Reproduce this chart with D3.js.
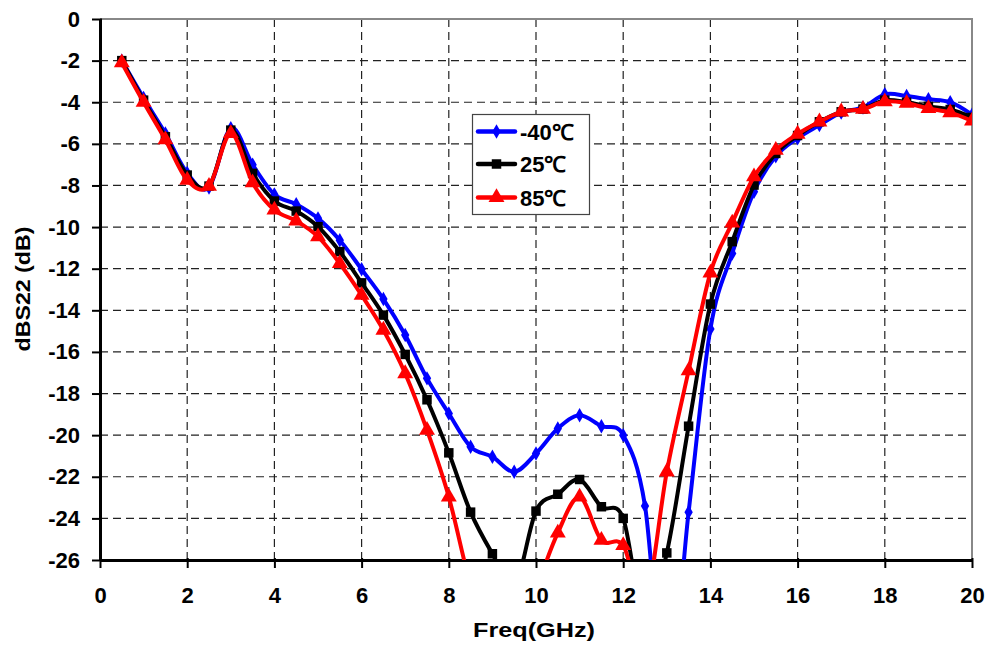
<!DOCTYPE html>
<html>
<head>
<meta charset="utf-8">
<script src="https://cdn.jsdelivr.net/npm/d3@7"></script>
<style>
  body { margin: 0; background: #fff; }
  text { font-family: "Liberation Sans", Arial, sans-serif; font-weight: bold; }
</style>
</head>
<body>
<div id="chart"></div>
<script>
var width = 988;
var height = 650;

// data
var freq = [0.5, 1, 1.5, 2, 2.5, 3, 3.5, 4, 4.5, 5, 5.5, 6, 6.5, 7, 7.5, 8, 8.5, 9, 9.5, 10,
            10.5, 11, 11.5, 12, 12.5, 13, 13.5, 14, 14.5, 15, 15.5, 16, 16.5, 17, 17.5, 18, 18.5, 19, 19.5, 20];

var s22_m40 = [-2.0, -3.8, -5.5, -7.4, -8.1, -5.25, -7.0, -8.43, -8.9, -9.58, -10.63, -12.03, -13.46, -15.19, -17.27, -18.96, -20.56, -21.04, -21.76, -20.88,
               -19.68, -19.04, -19.57, -20.0, -23.4, -33, -23.7, -14.9, -11.27, -8.3, -6.6, -5.73, -5.1, -4.5, -4.25, -3.62, -3.7, -3.86, -4.0, -4.6];

var s22_25 = [-2.0, -3.9, -5.66, -7.5, -8.03, -5.34, -7.42, -8.75, -9.23, -9.98, -11.18, -12.68, -14.23, -16.12, -18.3, -20.85, -23.7, -25.7, -27.3, -23.65,
              -22.84, -22.13, -23.44, -24.0, -29, -25.66, -19.57, -13.7, -10.7, -7.98, -6.46, -5.6, -4.94, -4.46, -4.33, -3.9, -4.0, -4.2, -4.35, -4.73];

var s22_85 = [-2.1, -4.0, -5.8, -7.74, -8.03, -5.5, -7.87, -9.18, -9.7, -10.46, -11.75, -13.27, -14.95, -17.04, -19.76, -22.97, -27.2, -30, -31, -27.5,
              -24.7, -22.97, -25.05, -25.3, -28, -21.76, -16.9, -12.2, -9.8, -7.58, -6.3, -5.53, -4.94, -4.46, -4.33, -3.97, -4.05, -4.3, -4.5, -4.9];

var seriesNames = ["-40\u2103", "25\u2103", "85\u2103"];
var seriesColors = ["#0000ff", "#000000", "#ff0000"];
var seriesSymbols = [d3.symbolDiamond, d3.symbolSquare, d3.symbolTriangle];
var symbolSizes = [60, 90, 110];

var xTicks = [0, 2, 4, 6, 8, 10, 12, 14, 16, 18, 20];
var yTicks = [0, -2, -4, -6, -8, -10, -12, -14, -16, -18, -20, -22, -24, -26];

var plot = {left: 100, right: 972, top: 19, bottom: 560};

var svg = d3.select("#chart")
  .append("svg")
  .attr("width", width)
  .attr("height", height);

var x = d3.scaleLinear().domain([0, 20]).range([plot.left, plot.right]);
var y = d3.scaleLinear().domain([-26, 0]).range([plot.bottom, plot.top]);

svg.append("clipPath")
  .attr("id", "plotclip")
  .append("rect")
  .attr("x", plot.left)
  .attr("y", plot.top)
  .attr("width", plot.right - plot.left)
  .attr("height", plot.bottom - plot.top);

// dashed grid
svg.append("g")
  .selectAll("line.vgrid")
  .data(xTicks.slice(1, -1))
  .enter().append("line")
  .attr("x1", function(d) { return x(d); })
  .attr("x2", function(d) { return x(d); })
  .attr("y1", plot.top)
  .attr("y2", plot.bottom)
  .attr("stroke", "#222")
  .attr("stroke-width", 1.2)
  .attr("stroke-dasharray", "8,5");

svg.append("g")
  .selectAll("line.hgrid")
  .data(yTicks.slice(1, -1))
  .enter().append("line")
  .attr("x1", plot.left)
  .attr("x2", plot.right)
  .attr("y1", function(d) { return y(d); })
  .attr("y2", function(d) { return y(d); })
  .attr("stroke", "#222")
  .attr("stroke-width", 1.2)
  .attr("stroke-dasharray", "8,5");

// top and right border
svg.append("path")
  .attr("d", "M" + plot.left + "," + plot.top + "H" + plot.right + "V" + plot.bottom)
  .attr("fill", "none")
  .attr("stroke", "#888")
  .attr("stroke-width", 2);

// axes
var yAxis = svg.append("g")
  .attr("transform", "translate(" + plot.left + ",0)")
  .call(d3.axisLeft(y).tickValues(yTicks).tickSize(8).tickSizeOuter(0).tickPadding(12)
    .tickFormat(function(d) { return d; }));
yAxis.select(".domain").attr("stroke", "#000").attr("stroke-width", 3);
yAxis.selectAll(".tick line").attr("x1", 2).attr("stroke-width", 2);
yAxis.selectAll(".tick text").attr("font-size", 22).attr("fill", "#000")
  .attr("font-family", "Liberation Sans, Arial, sans-serif").attr("font-weight", "bold");

var xAxis = svg.append("g")
  .attr("transform", "translate(0," + plot.bottom + ")")
  .call(d3.axisBottom(x).tickValues(xTicks).tickSize(8).tickSizeOuter(0));
xAxis.select(".domain").attr("stroke", "#000").attr("stroke-width", 3);
xAxis.selectAll(".tick line").attr("y1", -2).attr("stroke-width", 2);
xAxis.selectAll(".tick text").attr("font-size", 22).attr("fill", "#000").attr("y", 27)
  .attr("font-family", "Liberation Sans, Arial, sans-serif").attr("font-weight", "bold");

// curves
var allSeries = [s22_m40, s22_25, s22_85];
var line = d3.line()
  .x(function(d) { return x(d[0]); })
  .y(function(d) { return y(d[1]); })
  .curve(d3.curveCatmullRom.alpha(0));

var curves = svg.append("g").attr("clip-path", "url(#plotclip)");

allSeries.forEach(function(vals, i) {
  var pts = freq.map(function(f, j) { return [f, vals[j]]; });
  curves.append("path")
    .datum(pts)
    .attr("d", line)
    .attr("fill", "none")
    .attr("stroke", seriesColors[i])
    .attr("stroke-width", 4)
    .attr("stroke-linejoin", "round");

  curves.selectAll(".mk" + i)
    .data(pts)
    .enter().append("path")
    .attr("class", "mk" + i)
    .attr("d", d3.symbol().type(seriesSymbols[i]).size(symbolSizes[i]))
    .attr("transform", function(d) { return "translate(" + x(d[0]) + "," + y(d[1]) + ")"; })
    .attr("fill", seriesColors[i]);
});

// legend
var legend = svg.append("g");
legend.append("rect")
  .attr("x", 472.5)
  .attr("y", 114.5)
  .attr("width", 117)
  .attr("height", 100)
  .attr("fill", "#fff")
  .attr("stroke", "#444")
  .attr("stroke-width", 1.2);

var legendY = [131.5, 164, 197.5];
seriesNames.forEach(function(name, i) {
  legend.append("line")
    .attr("x1", 478).attr("x2", 515)
    .attr("y1", legendY[i]).attr("y2", legendY[i])
    .attr("stroke", seriesColors[i])
    .attr("stroke-width", 4.5)
    .attr("stroke-linecap", "round");
  legend.append("path")
    .attr("d", d3.symbol().type(seriesSymbols[i]).size(symbolSizes[i]))
    .attr("transform", "translate(496.5," + legendY[i] + ")")
    .attr("fill", seriesColors[i]);
  legend.append("text")
    .attr("x", 520)
    .attr("y", legendY[i] + 8)
    .attr("font-size", 22)
    .text(name);
});

// axis titles
svg.append("text")
  .attr("x", 534)
  .attr("y", 637)
  .attr("text-anchor", "middle")
  .attr("font-size", 21)
  .attr("textLength", 122)
  .attr("lengthAdjust", "spacingAndGlyphs")
  .text("Freq(GHz)");

svg.append("text")
  .attr("transform", "translate(30,289) rotate(-90)")
  .attr("text-anchor", "middle")
  .attr("font-size", 21)
  .attr("textLength", 125)
  .attr("lengthAdjust", "spacingAndGlyphs")
  .text("dBS22 (dB)");
</script>
</body>
</html>
